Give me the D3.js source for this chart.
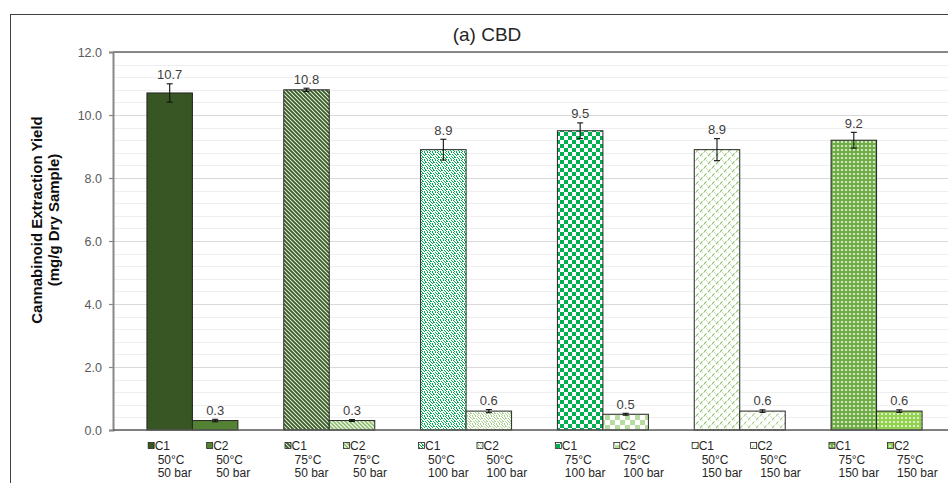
<!DOCTYPE html>
<html>
<head>
<meta charset="utf-8">
<script src="https://cdn.jsdelivr.net/npm/d3@7"></script>
<style>
  body { margin: 0; background: #fff; }
  svg { display: block; font-family: "Liberation Sans", Arial, sans-serif; }
</style>
</head>
<body>
<svg id="chart" width="948" height="483"></svg>
<script>
// Extraction conditions (one group per temperature / pressure pair)
const groups = ["50°C|50 bar", "75°C|50 bar", "50°C|100 bar", "75°C|100 bar", "50°C|150 bar", "75°C|150 bar"];
const temps = ["50°C", "75°C", "50°C", "75°C", "50°C", "75°C"];
const pressures = ["50 bar", "50 bar", "100 bar", "100 bar", "150 bar", "150 bar"];
const cycles = ["C1", "C2"];

// CBD yield (mg/g dry sample) per cycle, with standard deviations
const c1Values = [10.7, 10.8, 8.9, 9.5, 8.9, 9.2];
const c2Values = [0.3, 0.3, 0.6, 0.5, 0.6, 0.6];
const c1Errors = [0.29, 0.05, 0.33, 0.25, 0.35, 0.25];
const c2Errors = [0.04, 0.03, 0.05, 0.03, 0.04, 0.04];

const yTicks = [0, 2, 4, 6, 8, 10, 12];
const yMinor = d3.range(0, 12.01, 0.4);

const svg = d3.select("#chart");
const defs = svg.append("defs");

// ---- fill patterns -------------------------------------------------------
function solid(id, color) {
  const p = defs.append("pattern").attr("id", id).attr("patternUnits", "userSpaceOnUse")
    .attr("width", 4).attr("height", 4);
  p.append("rect").attr("width", 4).attr("height", 4).attr("fill", color);
}
function diag(id, fg, bg, sw) {
  const p = defs.append("pattern").attr("id", id).attr("patternUnits", "userSpaceOnUse")
    .attr("width", 4).attr("height", 4);
  p.append("rect").attr("width", 4).attr("height", 4).attr("fill", bg);
  p.append("path").attr("d", "M-1,3 L1,5 M0,0 L4,4 M3,-1 L5,1")
    .attr("stroke", fg).attr("stroke-width", sw);
}
function confetti(id, fg) {
  const p = defs.append("pattern").attr("id", id).attr("patternUnits", "userSpaceOnUse")
    .attr("width", 8).attr("height", 8);
  p.append("rect").attr("width", 8).attr("height", 8).attr("fill", "#fff");
  const cells = [[0,0],[3,0],[5,0],[1,1],[6,1],[2,2],[4,2],[7,2],[0,3],[5,3],
                 [3,4],[6,4],[1,5],[4,5],[7,5],[2,6],[5,6],[0,7],[3,7],[6,7],[1,2],[6,5]];
  cells.forEach(([x, y]) => p.append("rect").attr("x", x).attr("y", y)
    .attr("width", 1).attr("height", 1).attr("fill", fg));
}
function checker(id, fg, size) {
  const p = defs.append("pattern").attr("id", id).attr("patternUnits", "userSpaceOnUse")
    .attr("width", size * 2).attr("height", size * 2);
  p.append("rect").attr("width", size * 2).attr("height", size * 2).attr("fill", "#fff");
  p.append("rect").attr("width", size).attr("height", size).attr("fill", fg);
  p.append("rect").attr("x", size).attr("y", size).attr("width", size).attr("height", size).attr("fill", fg);
}
function dashedDiag(id, fg) {
  const p = defs.append("pattern").attr("id", id).attr("patternUnits", "userSpaceOnUse")
    .attr("width", 8).attr("height", 8);
  p.append("rect").attr("width", 8).attr("height", 8).attr("fill", "#fff");
  p.append("path").attr("d", "M0,8 L2.5,5.5 M4,4 L6.5,1.5 M7.5,0.5 L8,0 M-1,1 L1,-1")
    .attr("stroke", fg).attr("stroke-width", 1.1);
  p.append("path").attr("d", "M2,0 L4,2 M6,4 L7,5")
    .attr("stroke", fg).attr("stroke-width", 0.8).attr("opacity", 0.6);
}
function dotGrid(id, fg) {
  const p = defs.append("pattern").attr("id", id).attr("patternUnits", "userSpaceOnUse")
    .attr("width", 4).attr("height", 4);
  p.append("rect").attr("width", 4).attr("height", 4).attr("fill", fg);
  p.append("circle").attr("cx", 2).attr("cy", 2).attr("r", 1.1).attr("fill", "#fff").attr("opacity", 0.85);
}

solid("f0", "#375623");
solid("f1", "#548235");
diag("f2", "#3a5a28", "#e4f0dc", 1.8);
diag("f3", "#86b866", "#f0f7ea", 1.5);
confetti("f4", "#00b050");
confetti("f5", "#a9d18e");
checker("f6", "#00b050", 4);
checker("f7", "#b6dca0", 5);
dashedDiag("f8", "#8fc46a");
dashedDiag("f9", "#a9d18e");
dotGrid("f10", "#70ad47");
dotGrid("f11", "#92d050");

const fillFor = (g, c) => `url(#f${g * 2 + c})`;

// ---- layout --------------------------------------------------------------
const plot = { left: 113, top: 52, bottom: 430, right: 956 };

// outer chart frame
svg.append("rect").attr("x", 10.5).attr("y", 14.5).attr("width", 960).attr("height", 500)
  .attr("fill", "none").attr("stroke", "#404040").attr("stroke-width", 1);

const y = d3.scaleLinear().domain([0, 12]).range([plot.bottom, plot.top]);
const x0 = d3.scaleBand().domain(d3.range(groups.length)).range([plot.left, plot.right])
  .paddingInner(0.335).paddingOuter(0.248);
const x1 = d3.scaleBand().domain([0, 1]).range([0, x0.bandwidth()]);

// gridlines
svg.append("g").selectAll("line").data(yMinor).join("line")
  .attr("x1", plot.left).attr("x2", plot.right)
  .attr("y1", d => Math.round(y(d)) + 0.5).attr("y2", d => Math.round(y(d)) + 0.5)
  .attr("stroke", "#efefef").attr("stroke-width", 1);
svg.append("g").selectAll("line").data(yTicks.slice(1)).join("line")
  .attr("x1", plot.left).attr("x2", plot.right)
  .attr("y1", d => Math.round(y(d)) + 0.5).attr("y2", d => Math.round(y(d)) + 0.5)
  .attr("stroke", "#d9d9d9").attr("stroke-width", 1);

// plot area top border
svg.append("line").attr("x1", plot.left).attr("x2", plot.right)
  .attr("y1", plot.top).attr("y2", plot.top).attr("stroke", "#666").attr("stroke-width", 1.5);

// y axis
const yAxis = d3.axisLeft(y).tickValues(yTicks).tickFormat(d3.format(".1f")).tickSize(4).tickPadding(7);
const ya = svg.append("g").attr("transform", `translate(${plot.left},0)`).call(yAxis);
ya.select(".domain").attr("stroke", "#888").attr("stroke-width", 2);
ya.selectAll(".tick line").attr("stroke", "#888").attr("stroke-width", 1.2);
ya.selectAll(".tick text").attr("fill", "#595959").style("font-size", "12.5px")
  .style("font-family", "'Liberation Sans', Arial, sans-serif");

// bars
const series = [c1Values, c2Values];
const errs = [c1Errors, c2Errors];
const barData = [];
groups.forEach((g, gi) => cycles.forEach((c, ci) => barData.push({
  gi, ci, value: series[ci][gi], err: errs[ci][gi],
  x: x0(gi) + x1(ci), w: x1.bandwidth()
})));

svg.append("g").selectAll("rect").data(barData).join("rect")
  .attr("x", d => d.x).attr("y", d => y(d.value))
  .attr("width", d => d.w).attr("height", d => y(0) - y(d.value))
  .attr("fill", d => fillFor(d.gi, d.ci))
  .attr("stroke", "#262626").attr("stroke-width", 1);

// error bars
const eb = svg.append("g").attr("stroke", "#111").attr("stroke-width", 1.1);
barData.forEach(d => {
  const cx = d.x + d.w / 2;
  const yt = y(d.value + d.err), yb = y(d.value - d.err);
  eb.append("line").attr("x1", cx).attr("x2", cx).attr("y1", yt).attr("y2", yb);
  eb.append("line").attr("x1", cx - 3).attr("x2", cx + 3).attr("y1", yt).attr("y2", yt);
  eb.append("line").attr("x1", cx - 3).attr("x2", cx + 3).attr("y1", yb).attr("y2", yb);
});

// value labels
svg.append("g").selectAll("text").data(barData).join("text")
  .attr("x", d => d.x + d.w / 2).attr("y", d => y(d.value + d.err) - 4.5)
  .attr("text-anchor", "middle").attr("fill", "#404040").style("font-size", "13px")
  .text(d => d3.format(".1f")(d.value));

// x axis line
svg.append("line").attr("x1", plot.left).attr("x2", plot.right)
  .attr("y1", plot.bottom).attr("y2", plot.bottom).attr("stroke", "#595959").attr("stroke-width", 1.5);

// category labels with legend keys (table cells sit a little right of the bars)
const cellShift = [5, 18];
const lab = svg.append("g").attr("fill", "#262626").style("font-size", "12px");
barData.forEach(d => {
  const cx = d.x + d.w / 2 + cellShift[d.ci];
  const g = lab.append("g");
  const l2 = g.append("text").attr("y", 464).text(temps[d.gi]);
  const l3 = g.append("text").attr("y", 477).text(pressures[d.gi]);
  const wMax = Math.max(l2.node().getComputedTextLength(), l3.node().getComputedTextLength());
  const left = cx - wMax / 2;
  l2.attr("x", left); l3.attr("x", left);
  g.append("rect").attr("x", left - 9.5).attr("y", 442.5).attr("width", 6).attr("height", 6)
    .attr("fill", fillFor(d.gi, d.ci)).attr("stroke", "#262626").attr("stroke-width", 0.8);
  g.append("text").attr("x", left - 3).attr("y", 449.5).text(cycles[d.ci]);
});

// y axis title
const yt = svg.append("text").attr("transform", `translate(42,220) rotate(-90)`)
  .attr("text-anchor", "middle").attr("fill", "#0d0d0d")
  .style("font-size", "15px").style("font-weight", "bold");
yt.append("tspan").attr("x", 0).attr("y", 0).text("Cannabinoid Extraction Yield");
yt.append("tspan").attr("x", 0).attr("y", 16.5).text("(mg/g Dry Sample)");

// title
svg.append("text").attr("x", 487).attr("y", 41).attr("text-anchor", "middle")
  .attr("fill", "#262626").style("font-size", "19px").text("(a) CBD");
</script>
</body>
</html>
